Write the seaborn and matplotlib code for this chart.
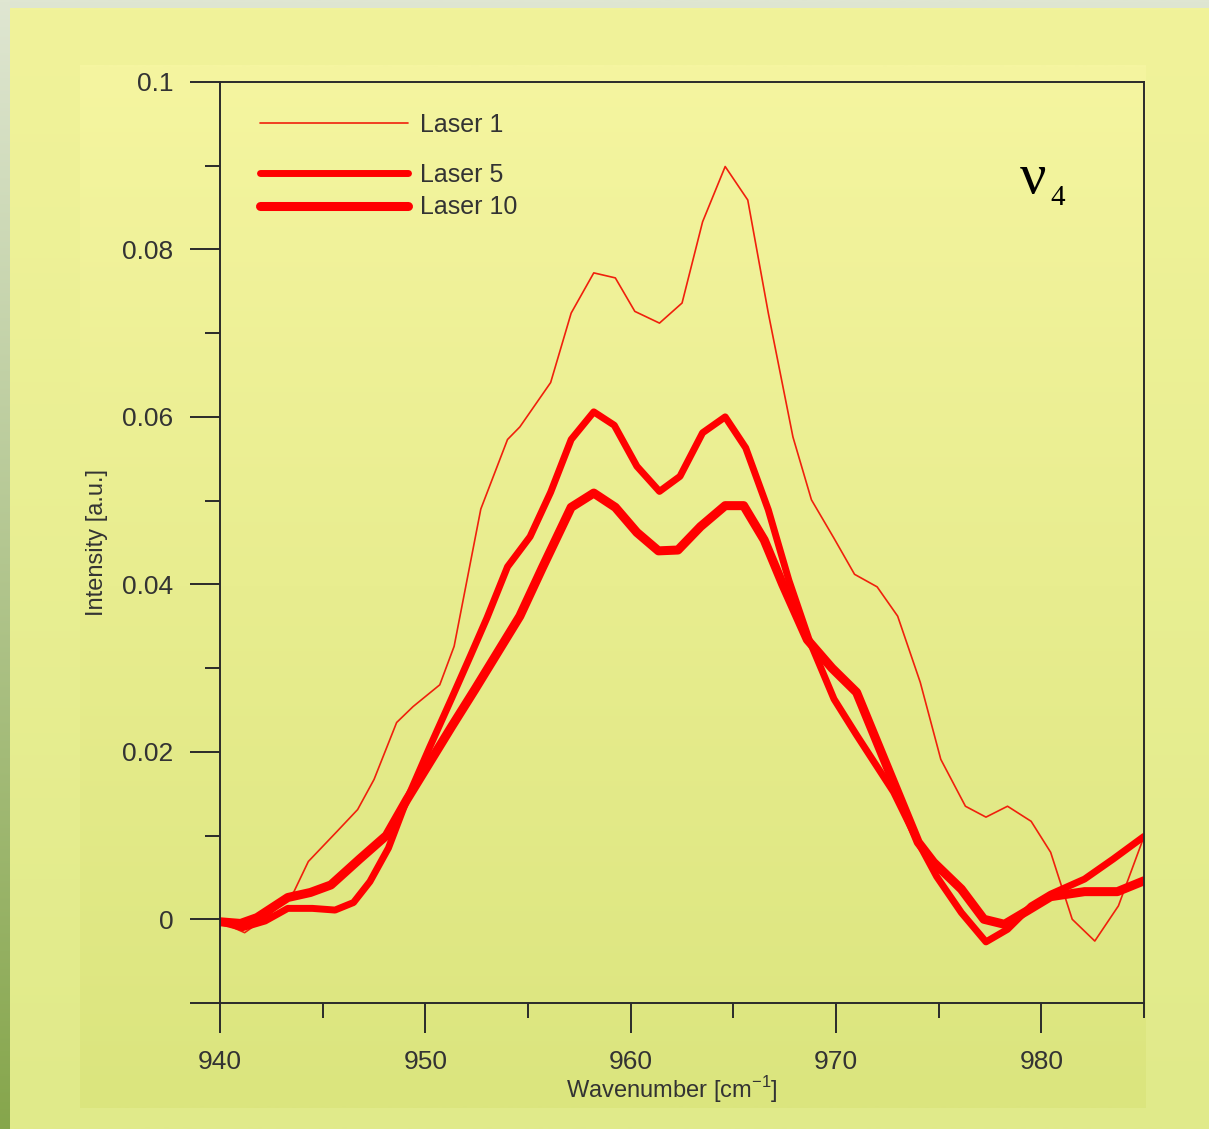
import numpy as np
import pandas as pd
import matplotlib
matplotlib.use('Agg')
import matplotlib.pyplot as plt
import seaborn as sns
from matplotlib.colors import to_rgb

# ---------------- data ----------------
laser1_x = [940.0, 941.2, 942.4, 943.6, 944.3, 945.7, 946.7, 947.5, 948.6, 949.4, 950.7,
            951.4, 952.7, 954.0, 954.6, 956.1, 957.1, 958.2, 959.25, 960.2, 961.4, 962.5,
            963.5, 964.6, 965.7, 966.7, 967.9, 968.8, 969.9, 970.9, 972.0, 973.0, 974.1,
            975.1, 976.3, 977.3, 978.35, 979.5, 980.45, 981.5, 982.6, 983.75, 985.0]
laser1_y = [-0.0003, -0.0016, 0.0005, 0.0033, 0.0069, 0.0105, 0.0131, 0.0167, 0.0235, 0.0254,
            0.0280, 0.0326, 0.0490, 0.0573, 0.0588, 0.0641, 0.0724, 0.0772, 0.0766, 0.0726,
            0.0712, 0.0736, 0.0833, 0.0899, 0.0859, 0.0724, 0.0576, 0.0501, 0.0455, 0.0412,
            0.0397, 0.0362, 0.0283, 0.0191, 0.0135, 0.0122, 0.0135, 0.0117, 0.0080, 0.0000,
            -0.0026, 0.0016, 0.0099]

laser5_x = [940.0, 941.1, 942.2, 943.3, 944.5, 945.6, 946.5, 947.3, 948.2, 949.1, 950.2,
            951.3, 952.2, 953.0, 954.0, 955.1, 956.1, 957.1, 958.2, 959.2, 960.3, 961.4,
            962.4, 963.5, 964.6, 965.6, 966.7, 967.7, 968.7, 969.9, 971.0, 972.8, 974.0,
            974.9, 976.1, 977.3, 978.35, 979.5, 980.45, 982.1, 983.5, 985.0]
laser5_y = [-0.0003, -0.0010, -0.0002, 0.0013, 0.0013, 0.0011, 0.0020, 0.0045, 0.0085, 0.0143,
            0.0205, 0.0265, 0.0315, 0.0360, 0.0421, 0.0457, 0.0510, 0.0573, 0.0606, 0.0590,
            0.0541, 0.0511, 0.0529, 0.0581, 0.0600, 0.0563, 0.0489, 0.0405, 0.0333, 0.0263,
            0.0220, 0.0152, 0.0092, 0.0051, 0.0008, -0.0027, -0.0012, 0.0016, 0.0030, 0.0048,
            0.0072, 0.0099]

laser10_x = [940.0, 941.0, 941.8, 943.3, 944.4, 945.4, 946.8, 948.1, 949.1, 950.2, 951.3,
             952.4, 953.5, 954.6, 955.7, 957.1, 958.2, 959.25, 960.3, 961.35, 962.3, 963.4,
             964.6, 965.5, 966.5, 967.4, 968.6, 969.8, 971.0, 974.0, 974.75, 976.1, 977.2,
             978.2, 979.3, 980.45, 982.1, 983.7, 985.0]
laser10_y = [-0.0003, -0.0005, 0.0002, 0.0026, 0.0032, 0.0041, 0.0072, 0.0100, 0.0143, 0.0187,
             0.0231, 0.0274, 0.0318, 0.0362, 0.0420, 0.0492, 0.0509, 0.0492, 0.0462, 0.0440,
             0.0441, 0.0469, 0.0494, 0.0494, 0.0453, 0.0400, 0.0334, 0.0300, 0.0271, 0.0092,
             0.0068, 0.0036, 0.0000, -0.0006, 0.0010, 0.0027, 0.0033, 0.0033, 0.0046]

series_labels = ['Laser 1', 'Laser 5', 'Laser 10']
x_major_ticks = [940, 950, 960, 970, 980]
x_minor_ticks = [945, 955, 965, 975, 985]
y_major_ticks = [-0.01, 0, 0.02, 0.04, 0.06, 0.08, 0.1]
y_tick_labels = ['', '0', '0.02', '0.04', '0.06', '0.08', '0.1']
y_minor_ticks = [0.01, 0.03, 0.05, 0.07, 0.09]

# ---------------- style ----------------
sns.set_style('ticks')
plt.rcParams['font.family'] = ['Liberation Sans', 'DejaVu Sans']
TXT = '#333333'
AX = '#2a2a2a'

W, H = 1209, 1129
fig = plt.figure(figsize=(W / 100, H / 100), dpi=100)

# background decoration
bg = fig.add_axes([0, 0, 1, 1], zorder=-10)
bg.axis('off')


def vgrad(ax, x0, x1, y0, y1, c_top, c_bot):
    t = np.linspace(0, 1, 256)[:, None, None]
    a = np.array(to_rgb(c_top))
    b = np.array(to_rgb(c_bot))
    img = a * (1 - t) + b * t
    ax.imshow(img, extent=(x0, x1, y1, y0), aspect='auto', interpolation='bilinear')


vgrad(bg, 0, W, 0, H, '#dfe6d2', '#86a64c')
vgrad(bg, 10, W, 8, H, '#f1f39a', '#e0ea8a')
vgrad(bg, 80, 1146, 65, 1108, '#f5f5a0', '#dbe57e')
bg.set_xlim(0, W)
bg.set_ylim(H, 0)

# main axes
ax = fig.add_axes([0.1820, 0.1116, 0.7643, 0.8158])
ax.patch.set_alpha(0)

df1 = pd.DataFrame({'x': laser1_x, 'y': laser1_y})
df5 = pd.DataFrame({'x': laser5_x, 'y': laser5_y})
df10 = pd.DataFrame({'x': laser10_x, 'y': laser10_y})

sns.lineplot(data=df1, x='x', y='y', ax=ax, color='#f0200c', lw=1.2,
             estimator=None, sort=False, label=series_labels[0])
sns.lineplot(data=df5, x='x', y='y', ax=ax, color='#ff0000', lw=5.0,
             estimator=None, sort=False, label=series_labels[1],
             solid_capstyle='round', solid_joinstyle='round')
sns.lineplot(data=df10, x='x', y='y', ax=ax, color='#ff0000', lw=6.5,
             estimator=None, sort=False, label=series_labels[2],
             solid_capstyle='round', solid_joinstyle='round')

lines = ax.get_lines()
if ax.get_legend() is not None:
    ax.get_legend().remove()

leg_kw = dict(loc='center left', frameon=False, handlelength=5.9, handletextpad=0.5,
              borderpad=0, borderaxespad=0, fontsize=18, labelcolor=TXT)
leg1 = ax.legend([lines[0]], [series_labels[0]], bbox_to_anchor=(0.0433, 0.9535), **leg_kw)
ax.add_artist(leg1)
ax.legend([lines[1], lines[2]], series_labels[1:], bbox_to_anchor=(0.0433, 0.8815),
          labelspacing=0.34, **leg_kw)

ax.set_xlim(940, 985)
ax.set_ylim(-0.01, 0.1)
ax.set_xticks(x_major_ticks)
ax.set_xticks(x_minor_ticks, minor=True)
ax.set_yticks(y_major_ticks)
ax.set_yticklabels(y_tick_labels)
ax.set_yticks(y_minor_ticks, minor=True)
ax.grid(False)

ax.tick_params(which='major', direction='out', length=21.6, width=1.4, color=AX,
               labelsize=19, labelcolor=TXT, pad=12)
ax.tick_params(which='minor', direction='out', length=10.8, width=1.4, color=AX)
for s in ax.spines.values():
    s.set_visible(True)
    s.set_color(AX)
    s.set_linewidth(1.4)

ax.set_xlabel(r'Wavenumber [cm$^{\mathregular{-1}}$]', fontsize=17, color=TXT)
ax.xaxis.label.set_va('center')
ax.xaxis.set_label_coords(0.489, -0.0945)
ax.set_ylabel('Intensity [a.u.]', fontsize=17, color=TXT)
ax.yaxis.label.set_va('center')
ax.yaxis.set_label_coords(-0.133, 0.5)

ax.text(0.880, 0.8947, '\u03bd', transform=ax.transAxes, fontsize=42,
        family='Liberation Serif', ha='center', va='center', color='black')
ax.text(0.906, 0.874, '4', transform=ax.transAxes, fontsize=21,
        family='Liberation Serif', ha='center', va='center', color='black')

fig.savefig('out.png', dpi=100)
